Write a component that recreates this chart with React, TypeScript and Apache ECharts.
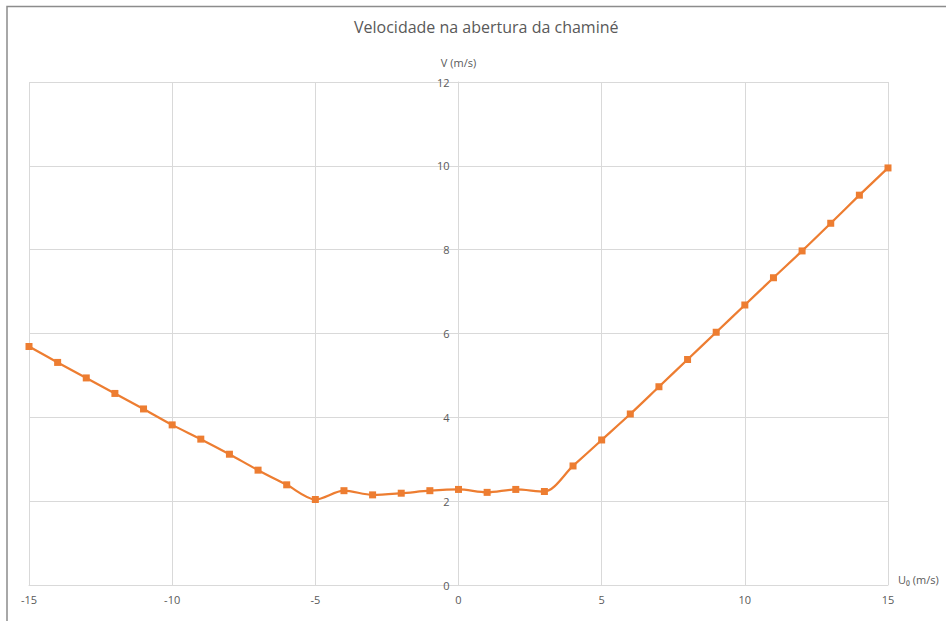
import React, { useEffect, useRef } from "react";
import * as echarts from "echarts";

const u0Values = [-15, -14, -13, -12, -11, -10, -9, -8, -7, -6, -5, -4, -3, -2, -1, 0, 1, 2, 3, 4, 5, 6, 7, 8, 9, 10, 11, 12, 13, 14, 15];
const vValues = [5.69, 5.31, 4.94, 4.57, 4.2, 3.82, 3.48, 3.12, 2.74, 2.39, 2.04, 2.25, 2.15, 2.19, 2.25, 2.28, 2.21, 2.28, 2.23, 2.84, 3.46, 4.08, 4.73, 5.38, 6.03, 6.68, 7.33, 7.97, 8.63, 9.3, 9.95];

const titleText = "Velocidade na abertura da chaminé";
const xAxisName = "U₀ (m/s)";
const yAxisName = "V (m/s)";

export default function App() {
  const ref = useRef<HTMLDivElement>(null);
  useEffect(() => {
    document.body.style.margin = "0";
    const chart = echarts.init(ref.current!, null, { renderer: "svg" });
    const font = "Open Sans, Noto Sans, sans-serif";
    const textColor = "#595959";
    chart.setOption({
      animation: false,
      textStyle: { fontFamily: font },
      title: {
        text: titleText,
        left: 349,
        top: 14,
        textStyle: { fontSize: 16, fontWeight: "normal", color: textColor, fontFamily: font },
      },
      grid: { left: 29, right: 58, top: 82, bottom: 36 },
      graphic: [
        {
          type: "polyline",
          shape: { points: [[7, 621], [7, 6.5], [946, 6.5]] },
          style: { stroke: "#8c8c8c", lineWidth: 1.5, fill: "none" },
          silent: true,
        },
      ],
      xAxis: {
        type: "value",
        min: -15,
        max: 15,
        interval: 5,
        name: xAxisName,
        nameLocation: "end",
        nameGap: 10,
        nameTextStyle: { color: textColor, fontSize: 11, fontFamily: font, verticalAlign: "bottom" },
        axisLine: { show: true, onZero: false, lineStyle: { color: "#d9d9d9" } },
        axisTick: { show: false },
        axisLabel: { color: textColor, fontSize: 11, margin: 9, fontFamily: font },
        splitLine: { show: true, lineStyle: { color: "#d9d9d9", width: 1 } },
      },
      yAxis: {
        type: "value",
        position: "left",
        offset: -429.5,
        min: 0,
        max: 12,
        interval: 2,
        name: yAxisName,
        nameLocation: "end",
        nameGap: 14,
        nameTextStyle: { color: textColor, fontSize: 11, fontFamily: font, align: "center" },
        axisLine: { show: true, onZero: false, lineStyle: { color: "#d9d9d9" } },
        axisTick: { show: false },
        axisLabel: { color: textColor, fontSize: 11, margin: 9, fontFamily: font },
        splitLine: { show: true, lineStyle: { color: "#d9d9d9", width: 1 } },
      },
      series: [
        {
          type: "line",
          data: u0Values.map((u, i) => [u, vValues[i]]),
          smooth: 0.3,
          symbol: "rect",
          symbolSize: 7,
          lineStyle: { color: "#ED7D31", width: 2.25 },
          itemStyle: { color: "#ED7D31" },
        },
      ],
    });
    return () => chart.dispose();
  }, []);
  return <div ref={ref} style={{ width: 946, height: 621 }} />;
}
